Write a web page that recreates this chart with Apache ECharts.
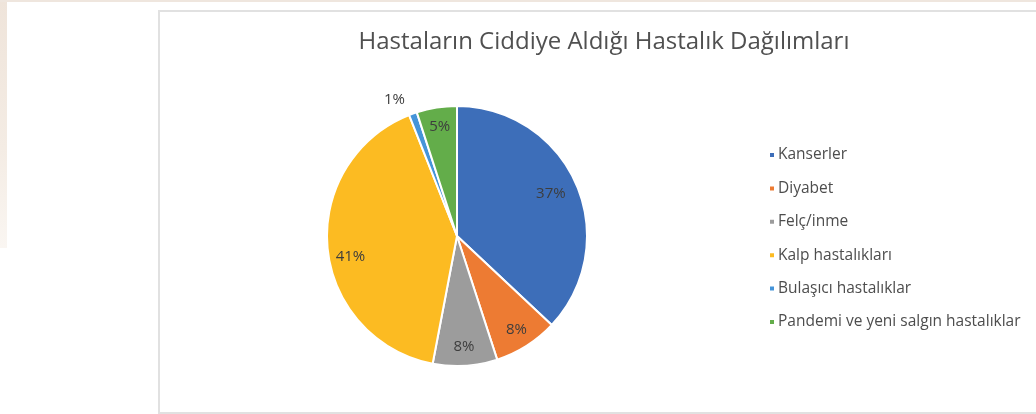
<!DOCTYPE html>
<html>
<head>
<meta charset="utf-8">
<script src="https://cdn.jsdelivr.net/npm/echarts@6/dist/echarts.min.js"></script>
<style>
  html, body { margin: 0; padding: 0; background: #ffffff; }
  #page { position: relative; width: 1036px; height: 414px; overflow: hidden; background: #ffffff; }
  #paper-left { position: absolute; left: 0; top: 0; width: 7px; height: 248px;
    background: linear-gradient(180deg, #efe4da 0%, #f4ece4 60%, #faf6f2 100%); }
  #paper-top { position: absolute; left: 0; top: 0; width: 1036px; height: 2px; background: #efe6de; }
  #frame { position: absolute; left: 158px; top: 10px; width: 900px; height: 400px;
    border: 2px solid #e1e1e1; background: #ffffff; }
  #chart { position: absolute; left: 0; top: 0; width: 1036px; height: 414px; }
</style>
</head>
<body>
<div id="page">
  <div id="paper-left"></div>
  <div id="paper-top"></div>
  <div id="frame"></div>
  <div id="chart"></div>
</div>
<script>
// Disease categories and their shares (%)
const categories = ['Kanserler', 'Diyabet', 'Felç/inme', 'Kalp hastalıkları', 'Bulaşıcı hastalıklar', 'Pandemi ve yeni salgın hastalıklar'];
const shares = [37, 8, 8, 41, 1, 5];
const colors = ['#3d6eb9', '#ed7b33', '#9c9c9c', '#fcbb22', '#4594d9', '#63ad4a'];
const chartTitle = 'Hastaların Ciddiye Aldığı Hastalık Dağılımları';

const FONT = '"Open Sans", "Noto Sans", sans-serif';
const center = [457, 236];
const R = 130;

// Fine nudges for individual percentage labels (best-fit placement)
const labelNudges = { 0: [-8, 2], 3: [4, 10], 4: [-25, -32] };

const sliceData = categories.map((name, i) => ({
  name, value: shares[i], itemStyle: { color: colors[i] }
}));

// Label ring: a transparent band whose middle radius holds the percentages
const labelData = categories.map((name, i) => {
  const item = { name, value: shares[i] };
  if (labelNudges[i]) item.label = { offset: labelNudges[i] };
  return item;
});

const chart = echarts.init(document.getElementById('chart'), null, { renderer: 'canvas' });
chart.setOption({
  animation: false,
  backgroundColor: 'transparent',
  title: {
    text: chartTitle,
    left: 599, top: 25, textAlign: 'center',
    textStyle: { fontFamily: FONT, fontSize: 24, fontWeight: 'normal', color: '#505050' }
  },
  legend: {
    orient: 'vertical',
    left: 763, top: 142,
    icon: 'rect', itemWidth: 6, itemHeight: 6, itemGap: 17.4,
    data: categories,
    textStyle: { fontFamily: FONT, fontSize: 15.5, color: '#4d4d4d', padding: [0, 0, 0, -2] }
  },
  series: [
    {
      type: 'pie',
      center, radius: [0, R],
      startAngle: 90, clockwise: true,
      data: sliceData,
      itemStyle: { borderColor: '#ffffff', borderWidth: 2 },
      label: { show: false }, labelLine: { show: false },
      emphasis: { disabled: true }
    },
    {
      type: 'pie',
      center, radius: [86, R],
      startAngle: 90, clockwise: true,
      silent: true,
      data: labelData,
      itemStyle: { color: 'rgba(0,0,0,0)', borderWidth: 0 },
      label: {
        show: true, position: 'inside',
        formatter: p => p.value + '%',
        fontFamily: FONT, fontSize: 15, color: '#3d3d3d'
      },
      labelLine: { show: false },
      emphasis: { disabled: true },
      tooltip: { show: false }
    }
  ]
});
</script>
</body>
</html>
